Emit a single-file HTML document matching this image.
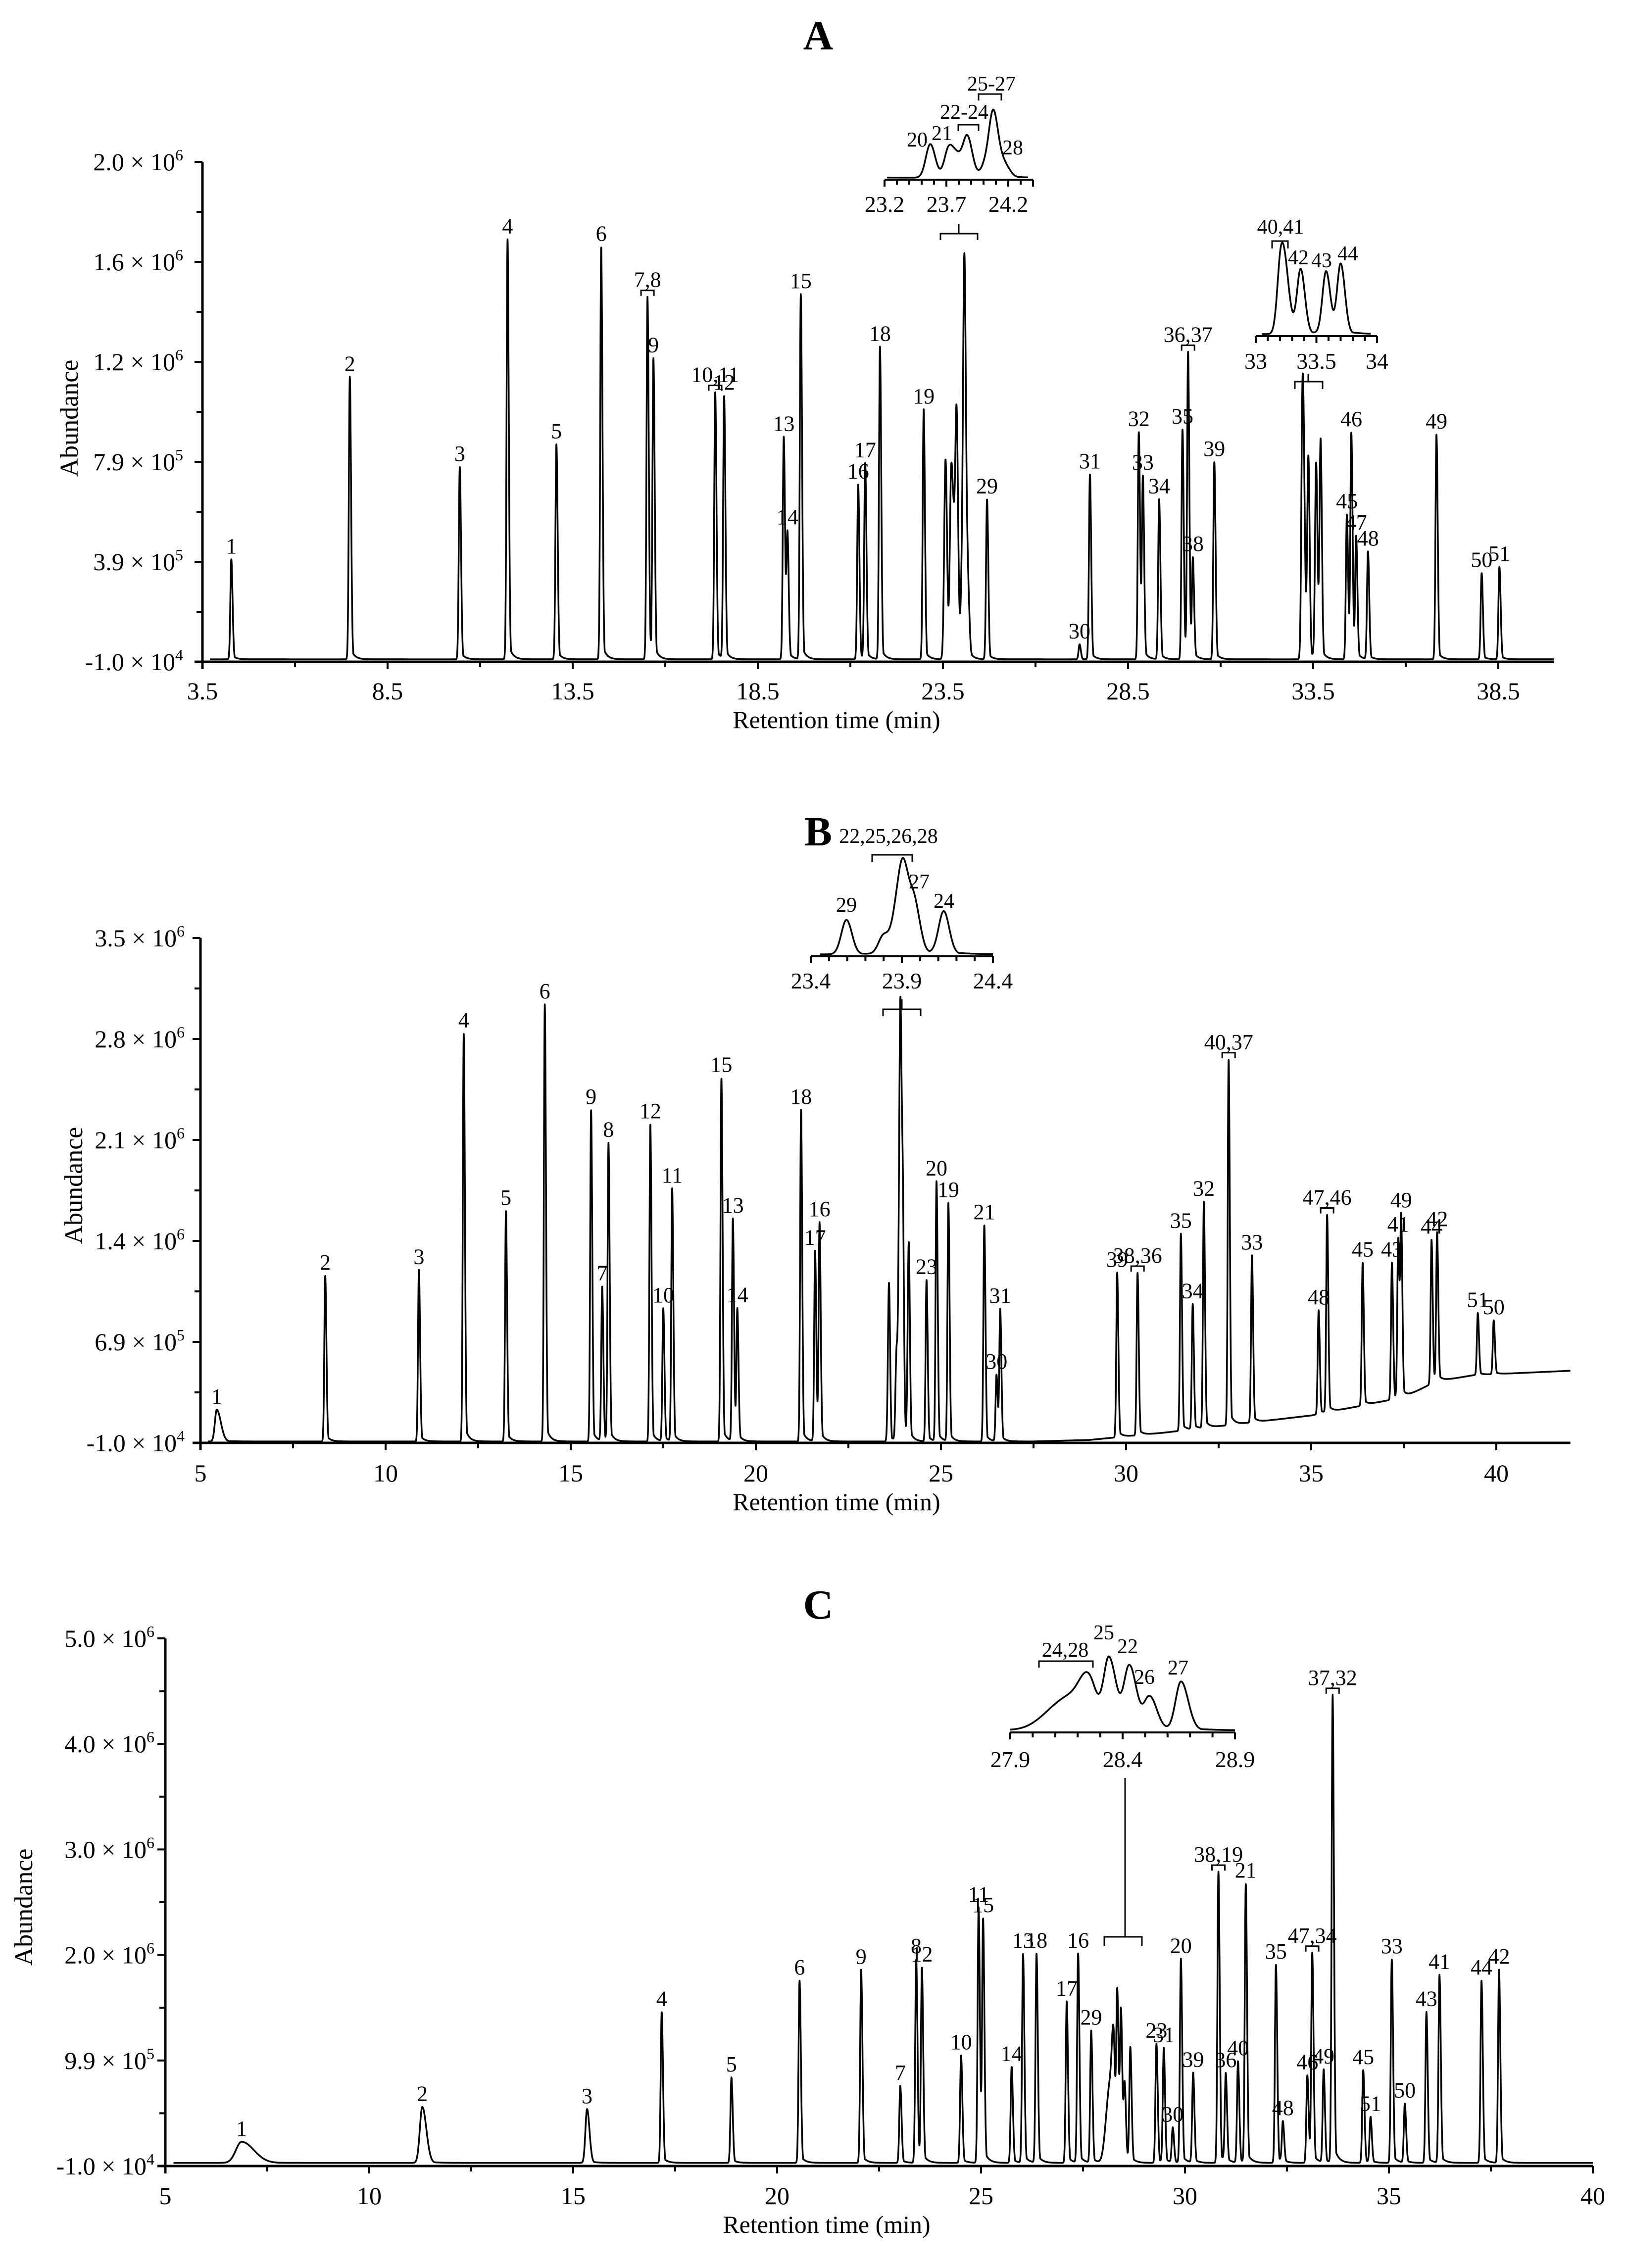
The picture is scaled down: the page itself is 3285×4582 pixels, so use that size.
<!DOCTYPE html>
<html><head><meta charset="utf-8">
<style>
html,body{margin:0;padding:0;background:#fff;}
svg{display:block;}
text{font-family:"Liberation Serif","DejaVu Serif",serif;fill:#000;}
</style></head>
<body>
<svg id="fig" xmlns="http://www.w3.org/2000/svg" width="3285" height="4582" viewBox="0 0 3285 4582"></svg>
<script>
// ---------- DATA ----------
const timesA = [4.28,7.48,10.45,11.74,13.06,14.27,15.52,15.68,17.35,17.59,19.2,19.3,19.66,21.21,21.4,21.8,22.98,23.57,23.72,23.79,23.87,24.01,24.08,24.17,24.69,27.19,27.47,28.79,28.9,29.34,29.97,30.12,30.25,30.83,33.21,33.26,33.37,33.58,33.70,34.41,34.53,34.66,34.98,36.83,38.05,38.53];
const topsA = [4.0e5,1.13e6,7.7e5,1.68e6,8.6e5,1.65e6,1.45e6,1.19e6,1.07e6,1.05e6,8.9e5,5.0e5,1.46e6,7.0e5,7.8e5,1.25e6,1.0e6,8.0e5,7.0e5,4.0e5,9.5e5,2.5e5,1.55e6,3.0e5,6.4e5,6e4,7.4e5,9.1e5,7.2e5,6.4e5,9.2e5,1.22e6,3.9e5,7.9e5,1.02e6,4.0e5,8.0e5,7.8e5,8.7e5,5.8e5,9.0e5,4.8e5,4.3e5,9.0e5,3.45e5,3.7e5];
const labelsA = ["1","2","3","4","5","6","7,8","9","10,11","12","13","14","15","16","17","18","19","","","","","","","","29","30","31","32","33","34","35","36,37","38","39","","","","","","45","46","47","48","49","50","51"];
const baseTA = [3.5,40];
const baseVA = [0,0];

const timesB = [5.44,8.37,10.9,12.11,13.25,14.3,15.55,15.85,16.02,17.15,17.5,17.74,19.07,19.38,19.5,21.22,21.6,21.72,23.596,23.8,23.87,23.91,23.97,24.13,24.61,24.88,25.2,26.17,26.5,26.6,29.76,30.31,31.48,31.8,32.1,32.77,33.4,35.2,35.43,36.39,37.18,37.35,37.43,38.25,38.4,39.5,39.93];
const topsB = [2.2e5,1.15e6,1.19e6,2.83e6,1.6e6,3.03e6,2.3e6,1.07e6,2.06e6,2.2e6,9.2e5,1.75e6,2.52e6,1.54e6,9e5,2.3e6,1.32e6,1.5e6,1.1e6,6e5,1.1e6,2.45e6,1.55e6,1.35e6,1.12e6,1.8e6,1.65e6,1.5e6,4.6e5,9.1e5,1.17e6,1.17e6,1.44e6,9.5e5,1.66e6,2.65e6,1.29e6,9.1e5,1.57e6,1.24e6,1.24e6,1.4e6,1.53e6,1.4e6,1.44e6,8.9e5,8.4e5];
const labelsB = ["1","2","3","4","5","6","9","7","8","12","10","11","15","13","14","18","17","16","","","","","","","23","20","19","21","30","31","39","38,36","35","34","32","40,37","33","48","47,46","45","43","41","49","44","42","51","50"];
const baseTB = [5,27.5,29,31,33,35,36.4,37.55,38.36,39.4,42];
const baseVB = [0,0,1e4,6e4,1.2e5,1.8e5,2.5e5,3.1e5,4.15e5,4.6e5,4.9e5];

const timesC = [6.87,11.3,15.34,17.17,18.88,20.55,22.06,23.02,23.41,23.55,24.51,24.94,25.05,25.75,26.03,26.36,27.1,27.38,27.7,28.08,28.18,28.25,28.34,28.43,28.52,28.66,29.3,29.48,29.7,29.9,30.2,30.82,31.0,31.3,31.49,32.23,32.4,33.0,33.12,33.4,33.62,34.37,34.55,35.07,35.39,35.92,36.24,37.27,37.7];
const topsC = [2.2e5,5.5e5,5.3e5,1.45e6,8.3e5,1.75e6,1.85e6,7.5e5,1.95e6,1.85e6,1.04e6,2.44e6,2.3e6,9.3e5,2.0e6,2.0e6,1.55e6,2.0e6,1.27e6,3.0e5,6.5e5,9.0e5,1.6e6,1.45e6,7.5e5,1.1e6,1.15e6,1.1e6,3.5e5,1.95e6,8.7e5,2.78e6,8.5e5,9.8e5,2.66e6,1.9e6,4e5,8.5e5,2.0e6,9e5,4.45e6,9e5,4.5e5,1.95e6,5.8e5,1.45e6,1.8e6,1.75e6,1.85e6];
const labelsC = ["1","2","3","4","5","6","9","7","8","12","10","11","15","14","13","18","17","16","29","","","","","","","","23","31","30","20","39","38,19","36","40","21","35","48","46","47,34","49","37,32","45","51","33","50","43","41","44","42"];
const baseTC = [5,40];
const baseVC = [2e4,2e4];

const yTickTextA = ["-1.0","3.9","7.9","1.2","1.6","2.0"];
const yTickExpA = ["4","5","5","6","6","6"];
const yTickTextB = ["-1.0","6.9","1.4","2.1","2.8","3.5"];
const yTickExpB = ["4","5","6","6","6","6"];
const yTickTextC = ["-1.0","9.9","2.0","3.0","4.0","5.0"];
const yTickExpC = ["4","5","6","6","6","6"];
const xTickTextA = ["3.5","8.5","13.5","18.5","23.5","28.5","33.5","38.5"];
const xTickTextB = ["5","10","15","20","25","30","35","40"];
const xTickTextC = ["5","10","15","20","25","30","35","40"];

// ---------- HELPERS ----------
const NS = 'http://www.w3.org/2000/svg';
const svg = document.getElementById('fig');
function mk(tag, attrs, parent){
  const e = document.createElementNS(NS, tag);
  for (const k in attrs) e.setAttribute(k, attrs[k]);
  (parent || svg).appendChild(e);
  return e;
}
function txt(str, x, y, size, anchor, parent){
  const e = mk('text', {x:x, y:y, 'font-size':size, 'text-anchor':anchor||'middle'}, parent);
  e.textContent = str;
  return e;
}
function interp(ts, vs, t){
  if (t <= ts[0]) return vs[0];
  for (let i=1;i<ts.length;i++){ if (t <= ts[i]) { const f=(t-ts[i-1])/(ts[i]-ts[i-1]); return vs[i-1]+f*(vs[i]-vs[i-1]); } }
  return vs[vs.length-1];
}
function makeSignal(times, tops, bt, bv, widthFn){
  const amps = times.map((t,i)=> tops[i] - interp(bt,bv,t));
  return function(t, noBase){
    let s = noBase ? 0 : interp(bt,bv,t);
    for (let i=0;i<times.length;i++){
      const d = t - times[i];
      if (d < -1.2 || d > 1.5) continue;
      const w = widthFn(i);
      const sg = d < 0 ? w[0] : w[1];
      let g = Math.exp(-0.5*(d/sg)*(d/sg));
      if (d > 0) g = Math.max(g, 0.05*Math.exp(-d/w[2]) * (1-Math.exp(-d/ (w[1]*0.6))));
      s += amps[i]*g;
    }
    return s;
  };
}
const sigA = makeSignal(timesA, topsA, baseTA, baseVA, i => (i>=17 && i<=23) ? [0.036,0.04,0.1] : ((i>=34 && i<=38) ? [0.03,0.035,0.1] : [0.026,0.034,0.1]));
const sigB = makeSignal(timesB, topsB, baseTB, baseVB, i => i===0 ? [0.05,0.11,0.2] : ((i>=18 && i<=23) ? [0.028,0.03,0.1] : [0.024,0.032,0.1]));
const sigC = makeSignal(timesC, topsC, baseTC, baseVC, i => i===0 ? [0.14,0.3,0.4] : (i===1 ? [0.06,0.1,0.2] : (i===2 ? [0.04,0.06,0.15] : ((i===19||i===20) ? [0.07,0.07,0.1] : (i===21 ? [0.04,0.035,0.1] : [0.024,0.032,0.1])))));

// ---------- PANELS ----------
const panels = [
 {key:'a', title:'A', titleY:100, x0:409, t0:3.5, ppm:74.8, tEnd:40, yBase:1337, yTop:328, vStep:4e5, pxStep:202,
  yText:yTickTextA, yExp:yTickExpA, xText:xTickTextA, yLabRight:370, xLabBase:1413, yTitleX:140, yTitleY:845, xTitleX:1690, xTitleY:1471,
  times:timesA, tops:topsA, labels:labelsA, sig:sigA},
 {key:'b', title:'B', titleY:1708, x0:405, t0:5, ppm:74.8, tEnd:42, yBase:2915, yTop:1895, vStep:7e5, pxStep:204,
  yText:yTickTextB, yExp:yTickExpB, xText:xTickTextB, yLabRight:373, xLabBase:2993, yTitleX:149, yTitleY:2395, xTitleX:1690, xTitleY:3051,
  times:timesB, tops:topsB, labels:labelsB, sig:sigB},
 {key:'c', title:'C', titleY:3270, x0:334, t0:5, ppm:82.4, tEnd:40, yBase:4376, yTop:3310, vStep:1e6, pxStep:213.2,
  yText:yTickTextC, yExp:yTickExpC, xText:xTickTextC, yLabRight:312, xLabBase:4453, yTitleX:48, yTitleY:3853, xTitleX:1670, xTitleY:4511,
  times:timesC, tops:topsC, labels:labelsC, sig:sigC}
];

panels.forEach(p => {
  const X = t => p.x0 + (t - p.t0)*p.ppm;
  const Y = v => p.yBase - (v + 1e4)/p.vStep*p.pxStep;
  const g = mk('g', {});
  
  

  const title = mk('text', {x:1653, y:p.titleY, 'font-size':84, 'font-weight':'bold', 'text-anchor':'middle'}, g);
  title.textContent = p.title;
  
  

  const xEnd = X(p.tEnd);
  const ax = mk('path', {d:`M${p.x0-16} ${p.yBase} H${xEnd} M${p.x0} ${p.yTop} V${p.yBase+15}`, stroke:'#000', 'stroke-width':5, fill:'none'}, g);
  
  

  let tk = '';
  for (let k=0;k<p.yText.length;k++){
    const v = -1e4 + k*p.vStep;
    const y = Y(v);
    tk += `M${p.x0-16} ${y} H${p.x0} `;
    if (k < p.yText.length-1){ const ym = Y(v + p.vStep/2); tk += `M${p.x0-12} ${ym} H${p.x0} `; }
    const lab = mk('text', {x:p.yLabRight, y:y+17, 'font-size':50, 'text-anchor':'end'}, g);
    lab.textContent = p.yText[k] + ' \u00d7 10';
    const sup = mk('tspan', {'font-size':32, dy:-20}, lab);
    sup.textContent = p.yExp[k];
    
    
  }
  for (let k=0;k<p.xText.length;k++){
    const t = p.t0 + 5*k;
    const x = X(t);
    tk += `M${x} ${p.yBase} V${p.yBase+15} `;
    if (t + 2.5 < p.tEnd) tk += `M${X(t+2.5)} ${p.yBase} V${p.yBase+11} `;
    const lab = txt(p.xText[k], x, p.xLabBase, 50, 'middle', g);
    
    
  }
  const ticks = mk('path', {d:tk, stroke:'#000', 'stroke-width':4, fill:'none'}, g);
  
  

  const yt = mk('text', {x:p.yTitleX, y:p.yTitleY, 'font-size':52, 'text-anchor':'middle', transform:`rotate(-90 ${p.yTitleX} ${p.yTitleY})`, dy:17}, g);
  yt.textContent = 'Abundance';
  
  
  const xt = txt('Retention time (min)', p.xTitleX, p.xTitleY, 50, 'middle', g);
  
  

  let d = '';
  const tStart = p.t0 + 0.2;
  for (let t = tStart; t <= p.tEnd; t += 0.004){
    d += (d ? 'L' : 'M') + X(t).toFixed(1) + ' ' + Y(p.sig(t)).toFixed(1);
  }
  const tr = mk('path', {d:d, stroke:'#000', 'stroke-width':3.5, fill:'none', 'stroke-linejoin':'round'}, g);
  
  

  for (let i=0;i<p.times.length;i++){
    const s = p.labels[i];
    if (!s) continue;
    const x = X(p.times[i]);
    const yTopPx = Y(p.sig(p.times[i]));
    let by = yTopPx - 12;
    if (s.indexOf(',') >= 0){
      const br = mk('path', {d:`M${x-13} ${yTopPx-2} V${yTopPx-13} H${x+13} V${yTopPx-2}`, stroke:'#000', 'stroke-width':3, fill:'none'}, g);
      
      
      by = yTopPx - 20;
    }
    const lab = txt(s, x, by, 44, 'middle', g);
    
    
  }
});

// ---------- INSETS ----------
const insets = [
 {name:'inset-a1', sig:sigA, t0:23.2, t1:24.4, x0:1787, ppm:250, yAxis:363, scale:144/1.7e6, majors:["23.2","23.7","24.2"], labY:428, from:23.22, to:24.36,
  labs:[["20",1853,296],["21",1903,283],["22-24",1948,240],["25-27",2003,183],["28",2046,312]],
  brs:[[1936,1977,252,265],[1977,2023,190,203]], conn:`M1900 485 V472 H1975 V485 M1937 472 V452`},
 {name:'inset-a2', sig:sigA, t0:33, t1:34, x0:2537, ppm:245, yAxis:679, scale:181/1.12e6, majors:["33","33.5","34"], labY:745, from:33.05, to:33.95,
  labs:[["40,41",2587,472],["42",2623,534],["43",2670,540],["44",2723,526]],
  brs:[[2570,2602,487,502]], conn:`M2616 786 V771 H2672 V786 M2643 771 V756`},
 {name:'inset-b', sig:sigB, t0:23.4, t1:24.4, x0:1638, ppm:368, yAxis:1932, scale:185/2.93e6, majors:["23.4","23.9","24.4"], labY:1997, from:23.45, to:24.4,
  labs:[["22,25,26,28",1795,1703],["27",1857,1795],["29",1710,1842],["24",1907,1834]],
  brs:[[1762,1843,1727,1741]], conn:`M1784 2053 V2039 H1860 V2053 M1822 2039 V2019`},
 {name:'inset-c', sig:sigC, t0:27.9, t1:28.9, x0:2041, ppm:454, yAxis:3500, scale:171/1.9e6, majors:["27.9","28.4","28.9"], labY:3570, from:27.9, to:28.9,
  labs:[["24,28",2152,3347],["25",2230,3312],["22",2278,3340],["26",2312,3402],["27",2380,3383]],
  brs:[[2099,2208,3356,3369]], conn:`M2273 3592 V3913 M2231 3932 V3913 H2307 V3932`}
];
insets.forEach(s => {
  const X = t => s.x0 + (t - s.t0)*s.ppm;
  const g = mk('g', {});
  
  
  let tk = `M${X(s.t0)} ${s.yAxis} H${X(s.t1)} `;
  const n = Math.round((s.t1 - s.t0)/0.1);
  for (let k=0;k<=n;k++){
    const t = s.t0 + k*0.1;
    const major = (k % 5 === 0) || k === n;
    tk += `M${X(t)} ${s.yAxis} V${s.yAxis + (major ? 14 : 10)} `;
  }
  const axp = mk('path', {d:tk, stroke:'#000', 'stroke-width':4, fill:'none'}, g);
  
  
  s.majors.forEach((m, k) => {
    const lab = txt(m, X(s.t0 + 0.5*k), s.labY, 46, 'middle', g);
    
    
  });
  let d = '';
  for (let t = s.from; t <= s.to; t += 0.002){
    const v = s.sig(t, true);
    d += (d ? 'L' : 'M') + X(t).toFixed(1) + ' ' + (s.yAxis - 4 - v*s.scale).toFixed(1);
  }
  const tr = mk('path', {d:d, stroke:'#000', 'stroke-width':3.5, fill:'none', 'stroke-linejoin':'round'}, g);
  
  
  s.labs.forEach(l => {
    const lab = txt(l[0], l[1], l[2], 42, 'middle', g);
    
    
  });
  s.brs.forEach(b => {
    const br = mk('path', {d:`M${b[0]} ${b[3]} V${b[2]} H${b[1]} V${b[3]}`, stroke:'#000', 'stroke-width':3, fill:'none'}, g);
    
    
  });
  const cn = mk('path', {d:s.conn, stroke:'#000', 'stroke-width':3, fill:'none'}, g);
  
  
});
</script>
</body></html>
